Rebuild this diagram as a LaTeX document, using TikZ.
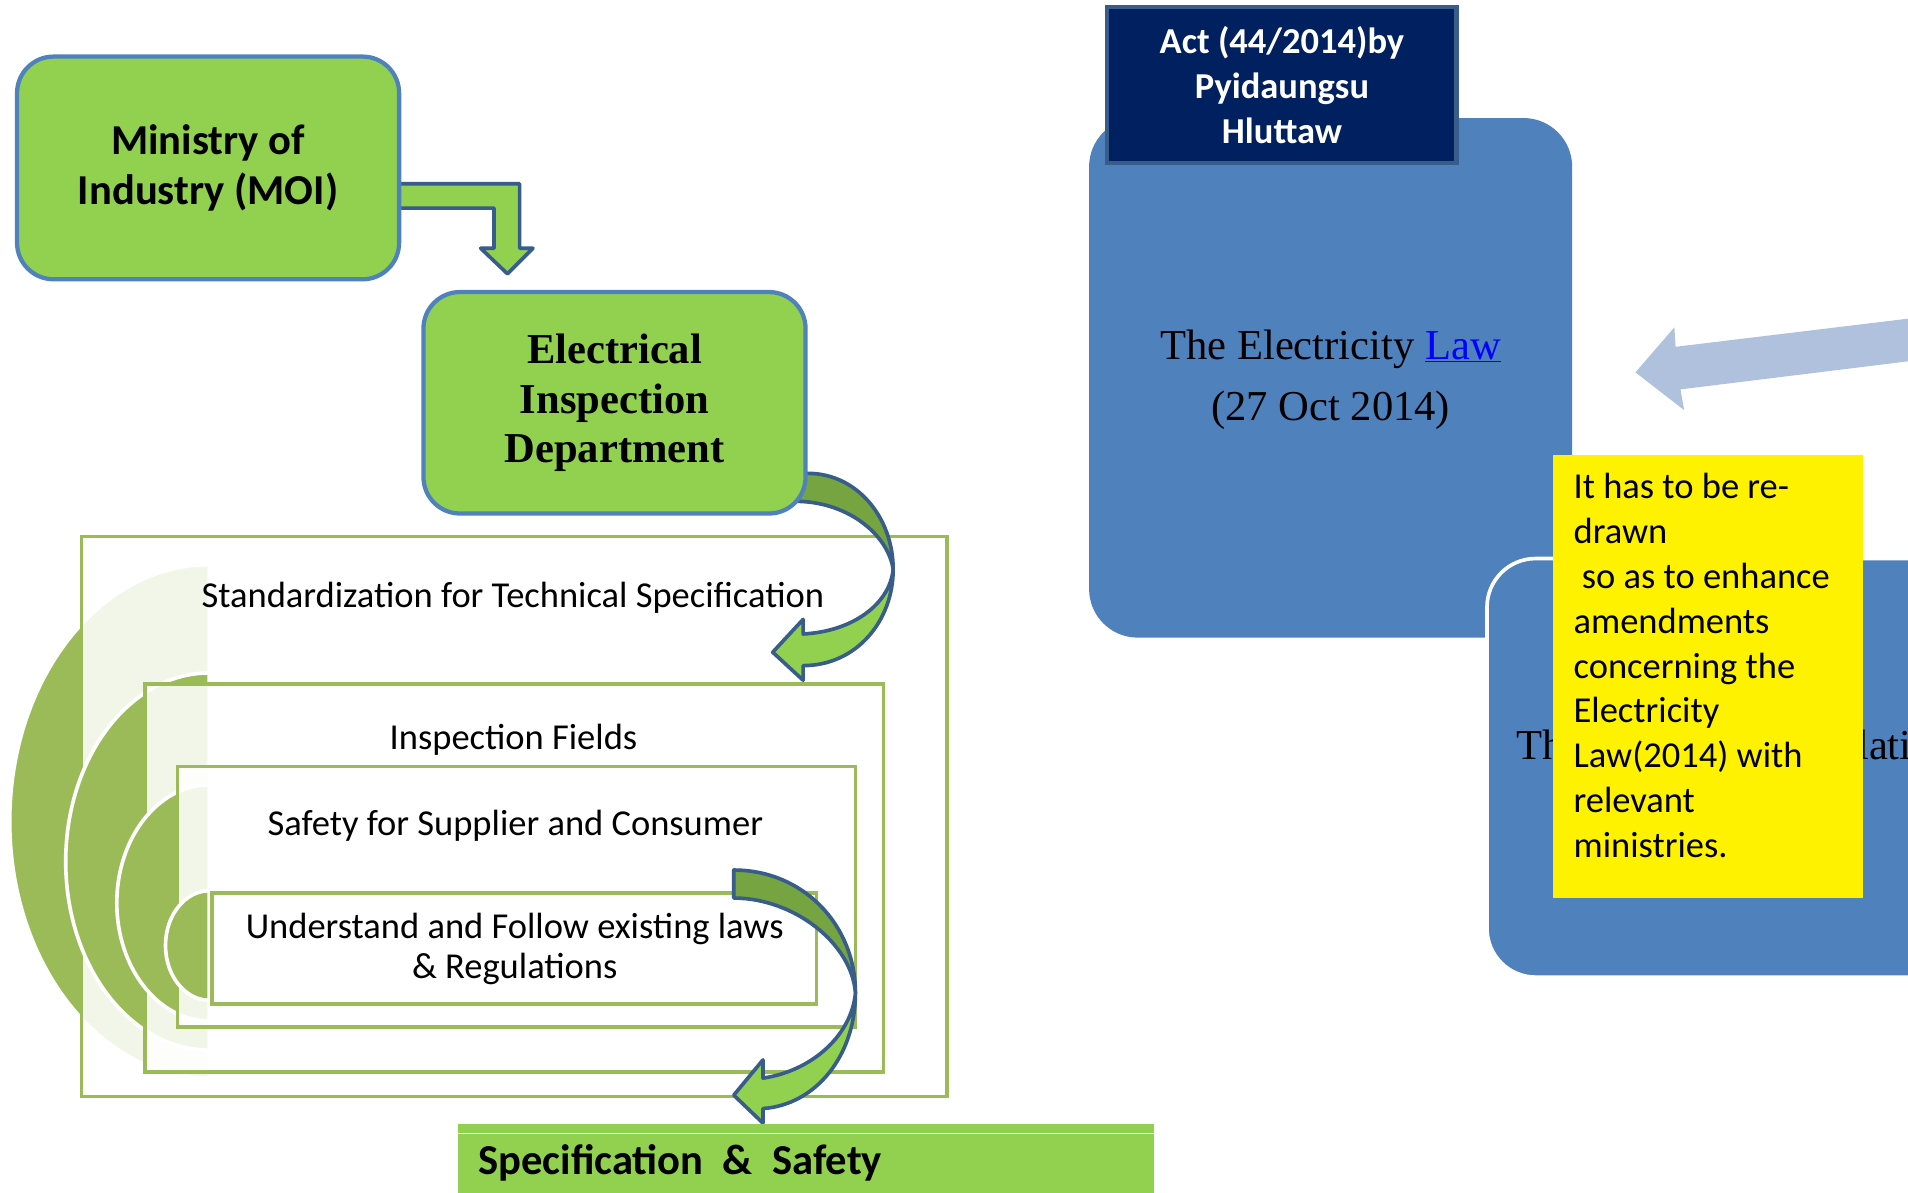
\documentclass[tikz,border=0pt]{standalone}
\usepackage{fontspec}
\setmainfont{Carlito}
\newfontfamily\timesfont{Liberation Serif}

\definecolor{leafgreen}{HTML}{92D050}
\definecolor{olivegreen}{HTML}{9BBB59}
\definecolor{darkleaf}{HTML}{75A440}
\definecolor{boxblue}{HTML}{4F81BD}
\definecolor{edgeblue}{HTML}{385D8A}
\definecolor{navy}{HTML}{002060}
\definecolor{paleblue}{HTML}{B0C1DD}
\definecolor{linkblue}{HTML}{0000FF}

\tikzset{
  greenbox/.style={draw=boxblue, line width=3.5, fill=leafgreen, rounded corners=30,
    minimum width=314, minimum height=183, inner sep=0, align=center},
  nestbox/.style={draw=olivegreen, line width=3, fill=white, fill opacity=0.87, inner sep=0},
  halfdisc/.style={fill=olivegreen, draw=white, line width=3},
  blockarrow/.style={draw=edgeblue, line width=3, line join=round},
  plaintext/.style={font=\fontsize{30}{33}\selectfont, inner sep=0, align=center},
  lawpanel/.style={fill=boxblue, rounded corners=40, inner sep=0},
  serifpart/.style={anchor=base west, inner sep=0, font=\timesfont\fontsize{35}{40}\selectfont},
}

\begin{document}
\begin{tikzpicture}[x=1pt, y=-1pt]
  \useasboundingbox (0,0) rectangle (1568,980);
  \clip (0,0) rectangle (1568,980);

  % moi -> eid
  \draw[blockarrow, fill=leafgreen] (320,151) -- (427,151) -- (427,204) -- (438,204)
    -- (417,225) -- (395,204) -- (406,204) -- (406,171) -- (320,171) -- cycle;
  \node[greenbox, font=\fontsize{35}{41}\selectfont\bfseries] (moi) at (171,138)
    {Ministry of\\Industry (MOI)};

  % nested targets, outer to inner
  \path[halfdisc] (172,464) arc[start angle=90, end angle=270, x radius=164pt, y radius=211pt] -- cycle;
  \node[nestbox, minimum width=711, minimum height=460] (std) at (422.5,671) {};
  \path[halfdisc] (172,553) arc[start angle=90, end angle=270, x radius=118pt, y radius=155pt] -- cycle;
  \node[nestbox, minimum width=607, minimum height=319] (fields) at (422.5,721.5) {};
  \path[halfdisc] (172,645) arc[start angle=90, end angle=270, x radius=76pt, y radius=97pt] -- cycle;
  \node[nestbox, minimum width=557, minimum height=214] (safety) at (424.5,737) {};
  \path[halfdisc] (172,732) arc[start angle=90, end angle=270, x radius=36pt, y radius=45pt] -- cycle;
  \node[nestbox, minimum width=497, minimum height=91] (laws) at (422.5,779.5) {};

  \node[plaintext, anchor=base] (stdlabel) at (421.5,499.6) {Standardization for Technical Specification};
  \node[plaintext, anchor=base] (fieldslabel) at (422,615.9) {Inspection Fields};
  \node[plaintext, anchor=base] (safetylabel) at (423.5,686.3) {Safety for Supplier and Consumer};
  \node[plaintext] (lawslabel) at (423,780) {Understand and Follow existing laws\\\& Regulations};

  % eid -> std
  \draw[blockarrow, fill=darkleaf] (645,389) -- (664,389) .. controls (704,389) and (734,425) .. (734,468)
    .. controls (730,440) and (698,413) .. (656,412) -- (645,412) -- cycle;
  \draw[blockarrow, fill=leafgreen] (734,468) .. controls (734,510) and (704,547) .. (660,547)
    -- (660,559) -- (635,536) -- (660,509) -- (660,521)
    .. controls (700,519) and (731,497) .. (734,468) -- cycle;
  \node[greenbox, minimum height=182, font=\timesfont\fontsize{35}{40.7}\selectfont\bfseries] (eid) at (505,331)
    {Electrical\\Inspection\\Department};

  % laws -> spec
  \draw[blockarrow, fill=darkleaf] (603,715) .. controls (660,715) and (703,760) .. (703,816)
    .. controls (700,775) and (652,738) .. (603,738) -- cycle;
  \draw[blockarrow, fill=leafgreen] (703,816) .. controls (703,868) and (670,908) .. (627,911)
    -- (627,923) -- (603,900) -- (627,871) -- (627,886)
    .. controls (668,880) and (700,850) .. (703,816) -- cycle;

  \node[fill=leafgreen, minimum width=572, minimum height=62, inner sep=0] (spec) at (662,955) {};
  \draw[white, line width=1.5] (spec.west |- 0,931.5) -- (spec.east |- 0,931.5);
  \node[anchor=base west, inner sep=0, font=\fontsize{35}{40}\selectfont\bfseries] (speclabel) at (393,964.8)
    {Specification\ \ \&\ \ Safety};

  % right side
  \node[lawpanel, minimum width=397, minimum height=427] (elaw) at (1093.5,310.5) {};
  \node[font=\timesfont\fontsize{35}{50.2}\selectfont, inner sep=0, align=center] (elawtext) at (1093.5,312)
    {The Electricity \textcolor{linkblue}{\underline{Law}}\\(27 Oct 2014)};
  \node[fill=navy, draw=edgeblue, line width=3.5, minimum width=287, minimum height=128, inner sep=0,
    text=white, align=center, font=\fontsize{30}{37.2}\selectfont\bfseries] (act) at (1053.5,70)
    {Act (44/2014)by\\Pyidaungsu\\Hluttaw};

  \node[lawpanel, draw=white, line width=3, minimum width=430, minimum height=344] (ereg) at (1437,631) {};
  % only the ends of this title show round the note
  \node[serifpart] (eregleft) at (1246,624) {Th};
  \node[serifpart] (eregright) at (1526,624) {lati};

  \node[fill=yellow, minimum width=255, minimum height=364, inner sep=0] (note) at (1403.5,556) {};
  \node[anchor=north west, inner sep=0, align=left, font=\fontsize{30}{36.9}\selectfont] (notetext) at (1293,388.6)
    {It has to be re-\\drawn\\\ so as to enhance\\amendments\\concerning the\\Electricity\\Law(2014) with\\relevant\\ministries.};

  \fill[paleblue] (1344,306) -- (1376,269) -- (1377,285) -- (1600,258) -- (1600,293)
    -- (1381,320) -- (1384,337) -- cycle;
\end{tikzpicture}
\end{document}
